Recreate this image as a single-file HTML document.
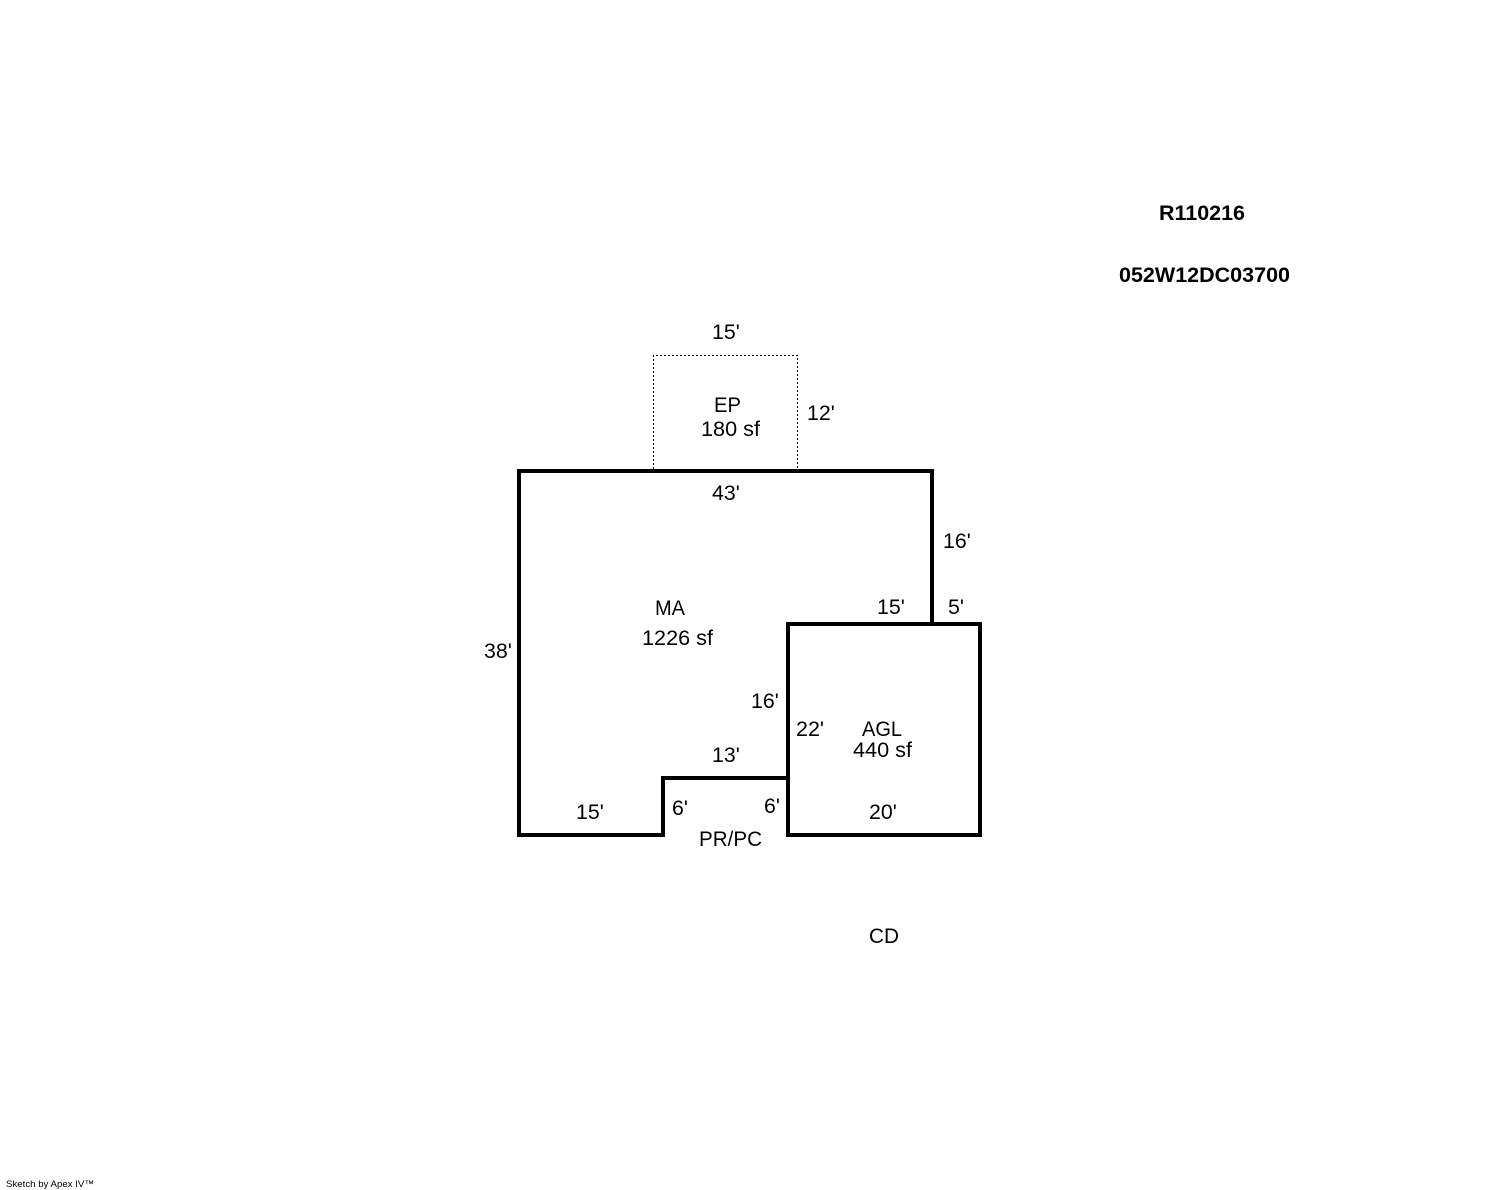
<!DOCTYPE html>
<html><head><meta charset="utf-8"><style>
html,body{margin:0;padding:0;background:#fff}
svg{display:block}
text{font-family:"Liberation Sans",Arial,sans-serif;font-size:21.33px;fill:#000}
</style></head><body>
<svg width="1488" height="1190" viewBox="0 0 1488 1190" xmlns="http://www.w3.org/2000/svg">
<rect width="1488" height="1190" fill="#fff"/>
<path d="M653.5 469V355.5H797.5V469" fill="none" stroke="#000" stroke-width="1" stroke-dasharray="2 2"/>
<path d="M663 835H519V471H932V624" fill="none" stroke="#000" stroke-width="4" stroke-linecap="square"/>
<path d="M663 835V778H788" fill="none" stroke="#000" stroke-width="4" stroke-linecap="square"/>
<rect x="788" y="624" width="192" height="211" fill="none" stroke="#000" stroke-width="4"/>
<text x="1159" y="220" style="font-weight:bold" textLength="86" lengthAdjust="spacingAndGlyphs">R110216</text>
<text x="1119" y="282" style="font-weight:bold" textLength="171" lengthAdjust="spacingAndGlyphs">052W12DC03700</text>
<text x="712" y="339">15'</text>
<text x="714" y="412" textLength="27" lengthAdjust="spacingAndGlyphs">EP</text>
<text x="701" y="436" textLength="59" lengthAdjust="spacingAndGlyphs">180 sf</text>
<text x="807" y="420">12'</text>
<text x="712" y="500">43'</text>
<text x="943" y="548">16'</text>
<text x="655" y="615" textLength="30" lengthAdjust="spacingAndGlyphs">MA</text>
<text x="642" y="645" textLength="71" lengthAdjust="spacingAndGlyphs">1226 sf</text>
<text x="877" y="614">15'</text>
<text x="948" y="614">5'</text>
<text x="484" y="658">38'</text>
<text x="751" y="708">16'</text>
<text x="796" y="736" textLength="28" lengthAdjust="spacingAndGlyphs">22'</text>
<text x="862" y="736" textLength="40" lengthAdjust="spacingAndGlyphs">AGL</text>
<text x="853" y="757" textLength="59" lengthAdjust="spacingAndGlyphs">440 sf</text>
<text x="712" y="762">13'</text>
<text x="672" y="815">6'</text>
<text x="764" y="813">6'</text>
<text x="576" y="819">15'</text>
<text x="869" y="819">20'</text>
<text x="699" y="846" textLength="63" lengthAdjust="spacingAndGlyphs">PR/PC</text>
<text x="869" y="943" textLength="30" lengthAdjust="spacingAndGlyphs">CD</text>
<text x="6" y="1187" style="font-size:9.5px" textLength="88" lengthAdjust="spacingAndGlyphs">Sketch by Apex IV™</text>
</svg>
</body></html>
